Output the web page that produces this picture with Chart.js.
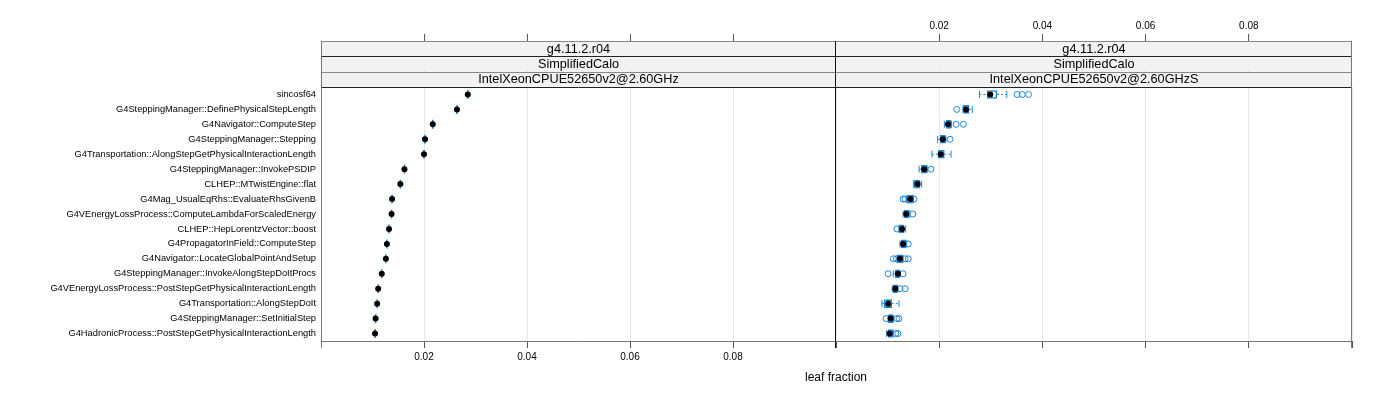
<!DOCTYPE html>
<html>
<head>
<meta charset="utf-8">
<script src="https://cdn.jsdelivr.net/npm/chart.js@4.4.1/dist/chart.umd.min.js"></script>
<style>
  body { margin: 0; background: #fff; width: 1400px; height: 400px; overflow: hidden; position: relative;
         font-family: "Liberation Sans", Arial, sans-serif; }
  canvas { position: absolute; left: 0; top: 0; }
  #xlab { position: absolute; left: 736px; width: 200px; top: 370px; text-align: center; font-size: 12px; color: #000; }
</style>
</head>
<body>
<canvas id="leftPanel" width="1400" height="400"></canvas>
<canvas id="rightPanel" width="1400" height="400"></canvas>
<div id="xlab">leaf fraction</div>
<script>
// categories (top to bottom)
const functions = [
  'sincosf64',
  'G4SteppingManager::DefinePhysicalStepLength',
  'G4Navigator::ComputeStep',
  'G4SteppingManager::Stepping',
  'G4Transportation::AlongStepGetPhysicalInteractionLength',
  'G4SteppingManager::InvokePSDIP',
  'CLHEP::MTwistEngine::flat',
  'G4Mag_UsualEqRhs::EvaluateRhsGivenB',
  'G4VEnergyLossProcess::ComputeLambdaForScaledEnergy',
  'CLHEP::HepLorentzVector::boost',
  'G4PropagatorInField::ComputeStep',
  'G4Navigator::LocateGlobalPointAndSetup',
  'G4SteppingManager::InvokeAlongStepDoItProcs',
  'G4VEnergyLossProcess::PostStepGetPhysicalInteractionLength',
  'G4Transportation::AlongStepDoIt',
  'G4SteppingManager::SetInitialStep',
  'G4HadronicProcess::PostStepGetPhysicalInteractionLength'
];

// strip labels, one per panel
const stripVersion = ['g4.11.2.r04', 'g4.11.2.r04'];
const stripTest = ['SimplifiedCalo', 'SimplifiedCalo'];
const stripCpu = ['IntelXeonCPUE52650v2@2.60GHz', 'IntelXeonCPUE52650v2@2.60GHzS'];

// x tick values
const tickValues = [0.02, 0.04, 0.06, 0.08];

// left panel: leaf fraction (single run)
const leftValues = [0.0285, 0.0264, 0.0217, 0.0202, 0.0200, 0.0162, 0.0154, 0.0138, 0.0137,
                    0.0132, 0.0128, 0.0126, 0.0118, 0.0111, 0.0109, 0.0106, 0.0105];

// right panel: box plot stats
const rightLow    = [0.0278, 0.0246, 0.0210, 0.0197, 0.0186, 0.0161, 0.0150, 0.0137, 0.0130,
                     0.0122, 0.0124, 0.0118, 0.0111, 0.0109, 0.0089, 0.0101, 0.0098];
const rightQ1     = [0.0293, 0.0247, 0.0214, 0.0202, 0.0198, 0.0165, 0.0151, 0.0137, 0.0132,
                     0.0122, 0.0126, 0.0118, 0.0115, 0.0111, 0.0093, 0.0101, 0.0101];
const rightMedian = [0.0299, 0.0252, 0.0217, 0.0207, 0.0203, 0.0171, 0.0158, 0.0144, 0.0136,
                     0.0128, 0.0130, 0.0124, 0.0120, 0.0115, 0.0101, 0.0106, 0.0104];
const rightQ3     = [0.0312, 0.0258, 0.0223, 0.0212, 0.0210, 0.0176, 0.0163, 0.0150, 0.0142,
                     0.0132, 0.0136, 0.0130, 0.0124, 0.0120, 0.0108, 0.0111, 0.0111];
const rightHigh   = [0.0331, 0.0264, 0.0224, 0.0213, 0.0223, 0.0177, 0.0166, 0.0150, 0.0143,
                     0.0135, 0.0137, 0.0130, 0.0124, 0.0120, 0.0122, 0.0111, 0.0111];
const rightOutliers = [
  [0.0351, 0.0361, 0.0373],
  [0.0234],
  [0.0233, 0.0247],
  [0.0221],
  [],
  [0.0184],
  [],
  [0.0130, 0.0134, 0.0151],
  [0.0149],
  [0.0118],
  [0.0140],
  [0.0111, 0.0117, 0.0134, 0.0140],
  [0.0101, 0.0130],
  [0.0124, 0.0134],
  [],
  [0.0097, 0.0118, 0.0122],
  [0.0116, 0.0120]
];

const BLUE = '#1f86d6';

const fmtTick = v => (v > 0.001 && v < 0.099) ? v.toFixed(2) : '';

// strips above each panel + panel frame
const stripPlugin = {
  id: 'strips',
  afterDraw(chart, args, opts) {
    const ctx = chart.ctx;
    const a = chart.chartArea;
    const top = 41;
    const h = (a.top - top) / 3;
    ctx.save();
    ctx.font = '12.7px "Liberation Sans", Arial, sans-serif';
    ctx.textAlign = 'center';
    ctx.textBaseline = 'middle';
    opts.texts.forEach((t, i) => {
      const y0 = top + i * h;
      ctx.fillStyle = '#f2f2f2';
      ctx.fillRect(a.left, y0, a.right - a.left, h);
      ctx.fillStyle = '#000';
      ctx.fillText(t, (a.left + a.right) / 2, y0 + h / 2 + 0.5);
    });
    ctx.lineWidth = 1;
    [0, 1, 2, 3].forEach(i => {
      const y = Math.round(top + i * h) + 0.5;
      ctx.strokeStyle = (i % 2 === 0) ? '#888' : '#222';
      ctx.beginPath();
      ctx.moveTo(a.left, y);
      ctx.lineTo(a.right, y);
      ctx.stroke();
    });
    // frame
    ctx.strokeStyle = '#777';
    ctx.beginPath();
    ctx.moveTo(a.left, Math.round(a.bottom) + 0.5);
    ctx.lineTo(a.right, Math.round(a.bottom) + 0.5);
    ctx.stroke();
    if (opts.leftColor) {
      ctx.strokeStyle = opts.leftColor;
      ctx.beginPath();
      ctx.moveTo(Math.round(a.left) + 0.5, top);
      ctx.lineTo(Math.round(a.left) + 0.5, a.bottom + 7);
      ctx.stroke();
    }
    if (opts.rightColor) {
      ctx.strokeStyle = opts.rightColor;
      ctx.beginPath();
      ctx.moveTo(Math.round(a.right) - 0.5, top);
      ctx.lineTo(Math.round(a.right) - 0.5, a.bottom + 7);
      ctx.stroke();
    }
    ctx.restore();
  }
};

function makeScales(showY, showBottom, showTop) {
  return {
    x: {
      type: 'linear', position: 'bottom', min: 0, max: 0.1,
      afterBuildTicks: s => { s.ticks = [0].concat(tickValues, [0.1]).map(v => ({ value: v })); },
      ticks: { display: showBottom, callback: fmtTick, font: { size: 10 }, color: '#000', padding: 3, maxRotation: 0 },
      grid: { color: '#e8e8e8', tickColor: '#555', tickLength: 7 },
      border: { display: false },
      afterFit: s => { s.height = 59; }
    },
    x2: {
      type: 'linear', position: 'top', min: 0, max: 0.1,
      afterBuildTicks: s => { s.ticks = tickValues.map(v => ({ value: v })); },
      ticks: { display: showTop, callback: fmtTick, font: { size: 10 }, color: '#000', padding: 2, maxRotation: 0 },
      grid: { drawOnChartArea: false, tickColor: '#555', tickLength: 53 },
      border: { display: false },
      afterFit: s => { s.height = 87; }
    },
    y: {
      type: 'category', labels: functions, offset: true, display: showY,
      grid: { display: false, drawTicks: false },
      border: { display: false },
      ticks: { font: { size: 9.3 }, color: '#000', padding: 5, autoSkip: false },
      afterFit: s => { s.width = showY ? 321 : 0; }
    }
  };
}

const baseOptions = (padding, scales, stripOpts) => ({
  responsive: false,
  animation: false,
  indexAxis: 'y',
  layout: { padding: padding },
  scales: scales,
  plugins: { legend: { display: false }, tooltip: { enabled: false }, strips: stripOpts }
});

// left panel: points only
new Chart(document.getElementById('leftPanel'), {
  type: 'bar',
  data: {
    labels: functions,
    datasets: [
      {
        type: 'line', showLine: false, order: 0, xAxisID: 'x', yAxisID: 'y',
        data: functions.map((f, i) => ({ x: leftValues[i], y: f })),
        pointStyle: 'circle', pointRadius: 3, pointBackgroundColor: '#000', pointBorderColor: '#000', pointBorderWidth: 0
      },
      {
        type: 'line', showLine: false, order: 1, xAxisID: 'x', yAxisID: 'y',
        data: functions.map((f, i) => ({ x: leftValues[i], y: f })),
        pointStyle: 'line', pointRotation: 90, pointRadius: 4.5, pointBorderColor: BLUE, pointBorderWidth: 1.5
      }
    ]
  },
  options: baseOptions({ left: 0, right: 564, top: 0, bottom: 0 }, makeScales(true, true, false),
    { texts: [stripVersion[0], stripTest[0], stripCpu[0]], leftColor: '#777', rightColor: '#111' }),
  plugins: [stripPlugin]
});

// right panel: box plots
const whiskerData = [];
const capData = [];
const outlierData = [];
functions.forEach((f, i) => {
  whiskerData.push({ x: rightLow[i], y: f }, { x: rightQ1[i], y: f }, { x: null, y: f },
                   { x: rightQ3[i], y: f }, { x: rightHigh[i], y: f }, { x: null, y: f });
  capData.push({ x: rightLow[i], y: f }, { x: rightHigh[i], y: f });
  rightOutliers[i].forEach(v => outlierData.push({ x: v, y: f }));
});

new Chart(document.getElementById('rightPanel'), {
  type: 'bar',
  data: {
    labels: functions,
    datasets: [
      {
        type: 'line', showLine: false, order: 0, xAxisID: 'x', yAxisID: 'y',
        data: functions.map((f, i) => ({ x: rightMedian[i], y: f })),
        pointStyle: 'circle', pointRadius: 3, pointBackgroundColor: '#000', pointBorderColor: '#000', pointBorderWidth: 0
      },
      {
        type: 'line', showLine: false, order: 1, xAxisID: 'x', yAxisID: 'y',
        data: outlierData,
        pointStyle: 'circle', pointRadius: 3, pointBackgroundColor: 'rgba(0,0,0,0)', pointBorderColor: BLUE, pointBorderWidth: 1
      },
      {
        type: 'line', showLine: false, order: 2, xAxisID: 'x', yAxisID: 'y',
        data: capData,
        pointStyle: 'line', pointRotation: 90, pointRadius: 3.5, pointBorderColor: BLUE, pointBorderWidth: 1
      },
      {
        type: 'line', showLine: true, spanGaps: false, order: 3, xAxisID: 'x', yAxisID: 'y',
        data: whiskerData,
        borderColor: BLUE, borderWidth: 1, borderDash: [2, 2], pointRadius: 0, fill: false
      },
      {
        type: 'bar', order: 4, xAxisID: 'x', yAxisID: 'y',
        data: functions.map((f, i) => [rightQ1[i], rightQ3[i]]),
        barThickness: 8, borderWidth: 1, borderColor: BLUE, backgroundColor: 'rgba(0,0,0,0)', borderSkipped: false
      }
    ]
  },
  options: baseOptions({ left: 836, right: 48, top: 0, bottom: 0 }, makeScales(false, false, true),
    { texts: [stripVersion[1], stripTest[1], stripCpu[1]], leftColor: null, rightColor: '#777' }),
  plugins: [stripPlugin]
});
</script>
</body>
</html>
